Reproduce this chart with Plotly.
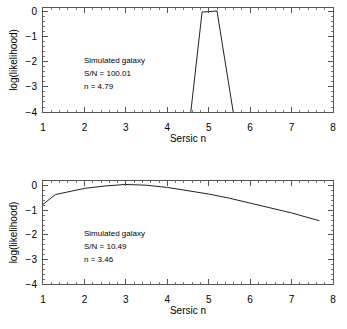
import plotly.graph_objects as go
from plotly.subplots import make_subplots

# top panel: high S/N galaxy, likelihood collapses to a narrow peak
n_hi = [4.43, 4.84, 5.2, 5.65]
logl_hi = [-6.0, -0.04, 0.0, -4.6]

# bottom panel: low S/N galaxy, broad likelihood
n_lo = [1.0, 1.3, 2.0, 2.5, 3.0, 3.5, 4.0, 4.5, 5.0, 5.5, 6.0, 6.5, 7.0, 7.67]
logl_lo = [-0.75, -0.35, -0.1, 0.0, 0.06, 0.03, -0.06, -0.18, -0.33, -0.5, -0.7, -0.9, -1.1, -1.42]

labels_hi = ["Simulated galaxy", "S/N = 100.01", "n = 4.79"]
labels_lo = ["Simulated galaxy", "S/N = 10.49", "n = 3.46"]

FONT = "Liberation Sans, Arial, sans-serif"
INK = "#222222"

fig = make_subplots(rows=2, cols=1, vertical_spacing=0.25)

fig.add_trace(go.Scatter(x=n_hi, y=logl_hi, mode="lines",
                         line=dict(color=INK, width=1)), row=1, col=1)
fig.add_trace(go.Scatter(x=n_lo, y=logl_lo, mode="lines",
                         line=dict(color=INK, width=1)), row=2, col=1)

axis_common = dict(
    showline=True, linecolor="#555555", linewidth=1, mirror="allticks",
    ticks="inside", ticklen=5, tickcolor="#555555", showgrid=False,
    zeroline=False, automargin=False,
    tickfont=dict(family=FONT, size=10, color="black"),
    minor=dict(ticks="inside", ticklen=2, tickcolor="#777777", showgrid=False),
)

for r in (1, 2):
    fig.update_xaxes(range=[1, 8], dtick=1, title_text="Sersic n",
                     title_font=dict(family=FONT, size=10, color="black"),
                     title_standoff=2, minor_dtick=0.2, ticklabelstandoff=6,
                     row=r, col=1, **axis_common)
fig.update_yaxes(range=[-4, 0.12], row=1, col=1)
fig.update_yaxes(range=[-4, 0.2], row=2, col=1)
for r in (1, 2):
    fig.update_yaxes(dtick=1, title_text="log(likelihood)",
                     title_font=dict(family=FONT, size=10, color="black"),
                     title_standoff=6, minor_dtick=0.2, ticklabelstandoff=3,
                     row=r, col=1, **axis_common)

fig.update_layout(
    yaxis=dict(domain=[0.623, 1.0]),
    yaxis2=dict(domain=[0.0, 0.373]),
)

for r, labels, yref, y0 in ((1, labels_hi, "y", -1.94), (2, labels_lo, "y2", -1.94)):
    xref = "x" if r == 1 else "x2"
    for i, t in enumerate(labels):
        fig.add_annotation(x=1.93, y=y0 - 0.53 * i, xref=xref, yref=yref,
                           text=t, showarrow=False, xanchor="left",
                           font=dict(family=FONT, size=8, color="black"))

fig.update_layout(
    width=347, height=329,
    margin=dict(l=43, r=14, t=8, b=45),
    paper_bgcolor="white", plot_bgcolor="white",
    showlegend=False,
)

# drop the browser's default 8px body margin so the figure sits at the corner
fig.write_html("out.html", config={"displayModeBar": False},
               post_script="document.body.style.margin='0';")
